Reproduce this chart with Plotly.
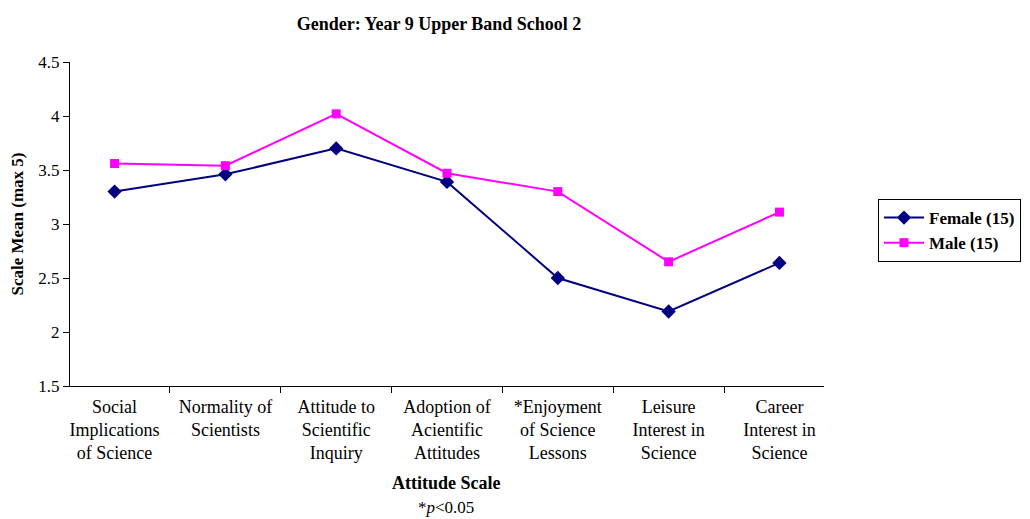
import plotly.graph_objects as go

categories = [
    "Social<br>Implications<br>of Science",
    "Normality of<br>Scientists",
    "Attitude to<br>Scientific<br>Inquiry",
    "Adoption of<br>Acientific<br>Attitudes",
    "*Enjoyment<br>of Science<br>Lessons",
    "Leisure<br>Interest in<br>Science",
    "Career<br>Interest in<br>Science",
]
female = [3.30, 3.46, 3.70, 3.39, 2.50, 2.19, 2.64]
male = [3.56, 3.54, 4.02, 3.47, 3.30, 2.65, 3.11]

font_family = "Liberation Serif, Times New Roman, serif"

L, R, T, B = 70, 824, 62, 386
W, H = R - L, B - T

fig = go.Figure()
fig.add_trace(go.Scatter(
    x=categories, y=female, mode="lines+markers", name="<b>Female (15)</b>",
    line=dict(color="#000080", width=2),
    marker=dict(symbol="diamond", size=11, color="#000080"),
))
fig.add_trace(go.Scatter(
    x=categories, y=male, mode="lines+markers", name="<b>Male (15)</b>",
    line=dict(color="#FF00FF", width=2),
    marker=dict(symbol="square", size=9, color="#FF00FF"),
))

fig.update_layout(
    width=1030, height=519,
    paper_bgcolor="white", plot_bgcolor="white",
    margin=dict(l=L, r=1030 - R, t=T, b=519 - B, autoexpand=False),
    font=dict(family=font_family, size=17, color="black"),
    title=dict(text="<b>Gender: Year 9 Upper Band School 2</b>", x=439/1030, xanchor="center",
               y=1 - 24/519, yanchor="middle", font=dict(size=18)),
    showlegend=True,
    legend=dict(x=(878 - L) / W, xref="paper", y=(B - 199) / H, yref="paper",
                xanchor="left", yanchor="top",
                bordercolor="black", borderwidth=1, bgcolor="white",
                font=dict(size=17), tracegroupgap=0, itemwidth=40),
    xaxis=dict(
        type="category", tickson="boundaries", ticks="outside", ticklen=6,
        showline=True, linecolor="black", linewidth=1, tickcolor="black",
        showgrid=False, tickfont=dict(size=18), automargin=False, ticklabelstandoff=4,
    ),
    yaxis=dict(
        range=[1.5, 4.5], dtick=0.5, ticks="outside", ticklen=6,
        showline=True, linecolor="black", linewidth=1, tickcolor="black",
        showgrid=False, zeroline=False, tickfont=dict(size=17), automargin=False,
        title=dict(text="<b>Scale Mean (max 5)</b>", font=dict(size=17), standoff=10),
    ),
)
fig.add_annotation(text="<b>Attitude Scale</b>", x=(446 - L) / W, xref="paper", y=(B - 483) / H, yref="paper",
                   showarrow=False, font=dict(size=18), xanchor="center", yanchor="middle")
fig.add_annotation(text="*<i>p</i><0.05", x=(446 - L) / W, xref="paper", y=(B - 507) / H, yref="paper",
                   showarrow=False, font=dict(size=17), xanchor="center", yanchor="middle")

fig.write_html("out.html", config={"displayModeBar": False},
               post_script="document.body.style.margin='0px';document.body.style.padding='0px';")
